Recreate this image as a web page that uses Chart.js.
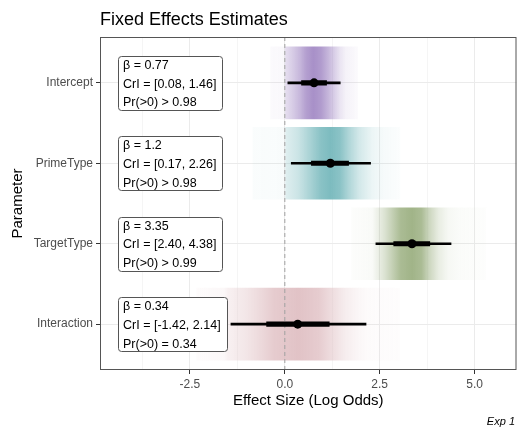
<!DOCTYPE html>
<html><head><meta charset="utf-8">
<script src="https://cdn.jsdelivr.net/npm/chart.js@4.4.1/dist/chart.umd.min.js"></script>
<style>html,body{margin:0;padding:0;background:#fff;} #wrap{width:521px;height:432px;position:relative;}</style>
</head><body><div id="wrap"><canvas id="c" width="521" height="432"></canvas></div>
<script>
// ---- data ----
const parameters = ['Intercept', 'PrimeType', 'TargetType', 'Interaction'];
const estimates = [0.77, 1.2, 3.35, 0.34];
const ci95Low = [0.08, 0.17, 2.40, -1.42];
const ci95High = [1.46, 2.26, 4.38, 2.14];
const ci66Low = [0.44, 0.70, 2.87, -0.48];
const ci66High = [1.10, 1.68, 3.82, 1.17];
const betaText = ['β = 0.77', 'β = 1.2', 'β = 3.35', 'β = 0.34'];
const criText = ['CrI = [0.08, 1.46]', 'CrI = [0.17, 2.26]', 'CrI = [2.40, 4.38]', 'CrI = [-1.42, 2.14]'];
const probText = ['Pr(>0) > 0.98', 'Pr(>0) > 0.98', 'Pr(>0) > 0.99', 'Pr(>0) = 0.34'];
const bandLow = [-0.37, -0.84, 1.76, -2.32];
const bandHigh = [1.92, 3.03, 5.30, 3.03];
// shading of each band: [effect value, relative opacity]
const shadeIntercept = [[-0.37,0.05],[-0.01,0.06],[0.02,0.3],[0.2,0.45],[0.4,0.65],[0.55,0.85],[0.75,1],[0.95,0.9],[1.15,0.65],[1.3,0.45],[1.45,0.25],[1.6,0.12],[1.92,0.04]];
const shadePrime = [[-0.84,0.04],[-0.01,0.05],[0.03,0.25],[0.35,0.4],[0.65,0.65],[0.95,0.9],[1.2,1],[1.45,0.9],[1.7,0.6],[1.95,0.35],[2.3,0.15],[2.6,0.07],[3.03,0.03]];
const shadeTarget = [[1.76,0.03],[2.3,0.06],[2.45,0.2],[2.65,0.4],[2.85,0.65],[3.05,0.9],[3.35,1],[3.6,0.9],[3.8,0.55],[4.05,0.25],[4.3,0.1],[4.6,0.05],[5.3,0.02]];
const shadeInteraction = [[-2.32,0.06],[-1.6,0.12],[-1.5,0.25],[-1.05,0.4],[-0.6,0.65],[-0.3,0.85],[0.35,1],[0.9,0.85],[1.2,0.6],[1.6,0.3],[2.0,0.12],[2.2,0.07],[3.03,0.04]];
const labelAnchorX = -4.4;
const titleText = 'Fixed Effects Estimates';
const captionText = 'Exp 1';
const xAxisTitle = 'Effect Size (Log Odds)';
const yAxisTitle = 'Parameter';

// ---- styles ----
const shades = [shadeIntercept, shadePrime, shadeTarget, shadeInteraction];
const bandRGB = [[163,138,197],[118,184,188],[156,176,130],[222,188,192]];
const bandPeak = [0.95, 0.95, 0.95, 0.9];
const FONT = "'Liberation Sans', Arial, sans-serif";
Chart.defaults.font.family = FONT;

function bandFill(ctx) {
  const chart = ctx.chart, xs = chart.scales.x;
  const i = ctx.dataIndex;
  if (!xs || !chart.chartArea || i === undefined) return 'rgba(0,0,0,0)';
  const lo = bandLow[i], hi = bandHigh[i];
  const g = chart.ctx.createLinearGradient(xs.getPixelForValue(lo), 0, xs.getPixelForValue(hi), 0);
  const [r, gg, b] = bandRGB[i];
  shades[i].forEach(([v, a]) => {
    const t = Math.min(1, Math.max(0, (v - lo) / (hi - lo)));
    g.addColorStop(t, `rgba(${r},${gg},${b},${(a * bandPeak[i]).toFixed(3)})`);
  });
  return g;
}
const isMajor = v => Math.abs(v / 2.5 - Math.round(v / 2.5)) < 1e-6;

const decorPlugin = {
  id: 'decor',
  afterDatasetsDraw(chart) {
    const c = chart.ctx, xs = chart.scales.x, ys = chart.scales.y, a = chart.chartArea;
    c.save();
    // labels
    c.font = `12.5px ${FONT}`;
    parameters.forEach((p, i) => {
      const cy = ys.getPixelForValue(i + 1);
      const left = Math.round(xs.getPixelForValue(labelAnchorX)) + 0.5;
      const lines = [betaText[i], criText[i], probText[i]];
      const w = Math.max(...lines.map(t => c.measureText(t).width));
      const bw = Math.round(w + 11), top = Math.round(cy - 27) + 0.5, bh = 54;
      c.beginPath();
      c.roundRect(left, top, bw, bh, 3);
      c.fillStyle = '#fff'; c.fill();
      c.lineWidth = 1; c.strokeStyle = '#555'; c.stroke();
      c.fillStyle = '#000'; c.textBaseline = 'middle'; c.textAlign = 'left';
      lines.forEach((t, k) => c.fillText(t, left + 4.5, cy - 17.5 + k * 18.7));
    });
    // panel border
    c.strokeStyle = '#555'; c.lineWidth = 1;
    c.strokeRect(a.left + 0.5, a.top + 0.5, a.right - a.left - 1, a.bottom - a.top - 1);
    c.restore();
  },
  afterDraw(chart) {
    const c = chart.ctx;
    c.save();
    c.fillStyle = '#000'; c.textBaseline = 'alphabetic';
    c.font = `18px ${FONT}`; c.textAlign = 'left';
    c.fillText(titleText, 100, 25);
    c.font = `italic 11px ${FONT}`; c.textAlign = 'right';
    c.fillText(captionText, 515, 425);
    c.restore();
  }
};

const yIdx = parameters.map((_, i) => i + 1);
new Chart(document.getElementById('c'), {
  type: 'bar',
  data: {
    datasets: [
      { type: 'scatter', data: yIdx.map((y, i) => ({ x: estimates[i], y })), pointRadius: 4.5, pointBackgroundColor: '#000', pointBorderWidth: 0, order: 1 },
      { type: 'bar', data: yIdx.map((y, i) => ({ x: [ci66Low[i], ci66High[i]], y })), backgroundColor: '#000', barThickness: 4.5, grouped: false, borderWidth: 0, order: 2 },
      { type: 'bar', data: yIdx.map((y, i) => ({ x: [ci95Low[i], ci95High[i]], y })), backgroundColor: '#000', barThickness: 2, grouped: false, borderWidth: 0, order: 3 },
      { type: 'line', data: [{ x: 0, y: 0.43 }, { x: 0, y: 4.57 }], borderColor: '#a0a0a0', borderWidth: 1, borderDash: [4, 3], pointRadius: 0, order: 4 },
      { type: 'bar', data: yIdx.map((y, i) => ({ x: [bandLow[i], bandHigh[i]], y })), backgroundColor: bandFill, barThickness: 72, grouped: false, borderWidth: 0, order: 5 }
    ]
  },
  options: {
    indexAxis: 'y',
    responsive: false,
    animation: false,
    events: [],
    layout: { padding: { top: 37, right: 4, left: 0, bottom: 0 } },
    plugins: { legend: { display: false }, tooltip: { enabled: false }, title: { display: false } },
    scales: {
      x: {
        type: 'linear', min: -4.87, max: 6.105, offset: false,
        afterFit(s) { s.height = 62; },
        ticks: { stepSize: 1.25, includeBounds: false, autoSkip: false, maxRotation: 0, color: '#4d4d4d', font: { size: 12 }, padding: 3,
          callback(v) { return isMajor(v) ? Number(v).toFixed(1) : ''; } },
        grid: { offset: false, color: '#ebebeb', lineWidth: c => (c.tick && isMajor(c.tick.value)) ? 1 : 0.5, tickLength: 4,
          tickColor: c => (c.tick && isMajor(c.tick.value)) ? '#333' : 'rgba(0,0,0,0)' },
        border: { display: false },
        title: { display: true, text: xAxisTitle, color: '#000', font: { size: 15 }, padding: { top: 0, bottom: 22 } }
      },
      y: {
        type: 'linear', reverse: true, min: 0.43, max: 4.57, offset: false,
        afterFit(s) { s.width = 100; },
        ticks: { stepSize: 1, includeBounds: false, autoSkip: false, color: '#4d4d4d', font: { size: 12 }, padding: 3,
          callback(v) { return parameters[Math.round(v) - 1] || ''; } },
        grid: { offset: false, color: '#ebebeb', lineWidth: 1, tickLength: 4, tickColor: '#333' },
        border: { display: false },
        title: { display: true, text: yAxisTitle, color: '#000', font: { size: 15 }, padding: { top: 9, bottom: 0 } }
      }
    }
  },
  plugins: [decorPlugin]
});
</script>
</body></html>
